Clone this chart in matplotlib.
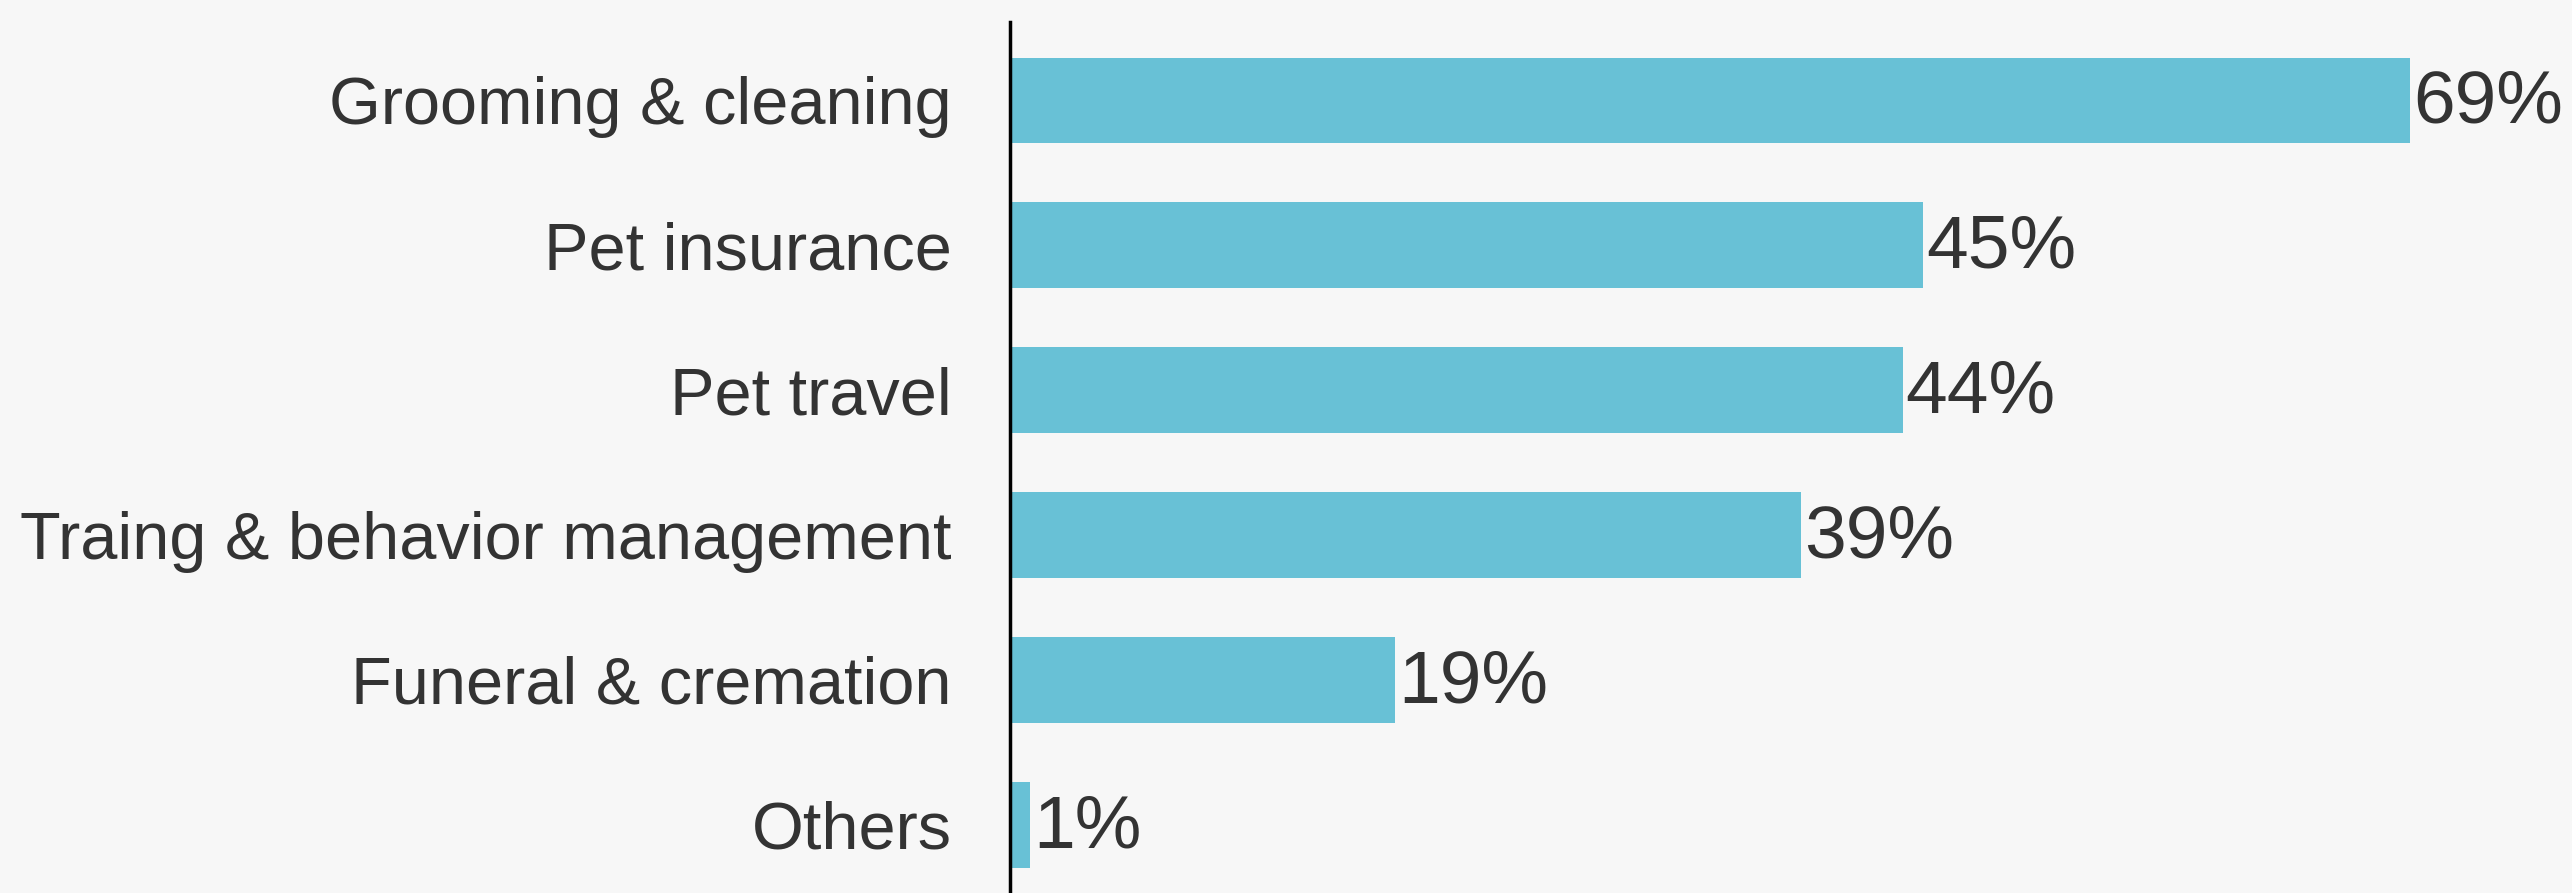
import matplotlib.pyplot as plt

categories = [
    "Grooming & cleaning",
    "Pet insurance",
    "Pet travel",
    "Traing & behavior management",
    "Funeral & cremation",
    "Others",
]
values = [69, 45, 44, 39, 19, 1]

bg = "#f7f7f7"
bar_color = "#68c1d6"
text_color = "#333333"

plt.rcParams["font.family"] = ["Liberation Sans", "DejaVu Sans"]

fig = plt.figure(figsize=(25.72, 8.93), dpi=100, facecolor=bg)
ax = fig.add_axes([1010 / 2572, 0, 1 - 1010 / 2572, 871 / 893])
ax.set_facecolor(bg)

ypos = list(range(len(categories)))
ax.barh(ypos, values, height=0.59, color=bar_color)

for y, v in zip(ypos, values):
    ax.text(v + 0.15, y + 0.02, f"{v}%", va="center", ha="left",
            fontsize=54, color=text_color)

ax.set_yticks(ypos)
ax.set_yticklabels(categories, fontsize=48, color=text_color)
ax.tick_params(axis="y", length=0, pad=42)
ax.set_xticks([])

ax.set_xlim(0, 77)
ax.set_ylim(5.47, -0.54)

for s in ["top", "right", "bottom"]:
    ax.spines[s].set_visible(False)
ax.spines["left"].set_linewidth(2.5)
ax.spines["left"].set_color("black")

fig.savefig("out.png", dpi=100, facecolor=bg)
